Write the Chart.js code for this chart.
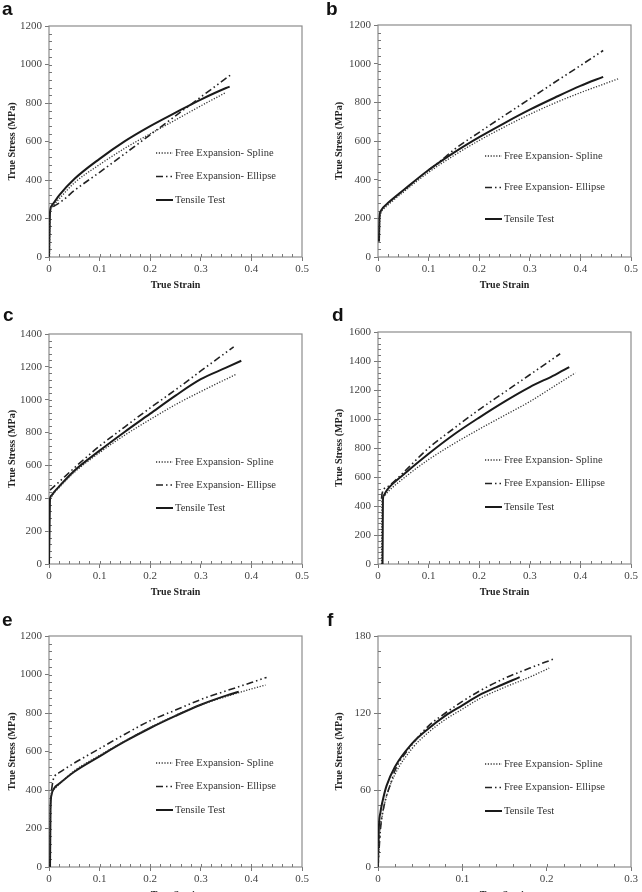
<!DOCTYPE html>
<html>
<head>
<meta charset="utf-8">
<script src="https://cdn.jsdelivr.net/npm/chart.js@4.4.1/dist/chart.umd.min.js"></script>
<style>
html, body { margin: 0; padding: 0; background: #fff; overflow: hidden; }
#fig { position: relative; width: 642px; height: 892px; overflow: hidden; }
.panel { position: absolute; width: 321px; height: 310px; }
.panel canvas { position: absolute; left: 0; top: 0; }
.tag { position: absolute; font: bold 19px "Liberation Sans", Arial, sans-serif; color: #111; line-height: 19px; }
</style>
</head>
<body>
<div id="fig">
  <div class="panel" style="left:0;top:0"><canvas id="ca" width="321" height="310"></canvas></div>
  <div class="panel" style="left:321px;top:0"><canvas id="cb" width="321" height="310"></canvas></div>
  <div class="panel" style="left:0;top:300px"><canvas id="cc" width="321" height="310"></canvas></div>
  <div class="panel" style="left:321px;top:300px"><canvas id="cd" width="321" height="310"></canvas></div>
  <div class="panel" style="left:0;top:600px"><canvas id="ce" width="321" height="310"></canvas></div>
  <div class="panel" style="left:321px;top:600px"><canvas id="cf" width="321" height="310"></canvas></div>
  <div class="tag" style="left:2px;top:-1px">a</div>
  <div class="tag" style="left:326px;top:-1px">b</div>
  <div class="tag" style="left:3px;top:305px">c</div>
  <div class="tag" style="left:332px;top:305px">d</div>
  <div class="tag" style="left:2px;top:610px">e</div>
  <div class="tag" style="left:327px;top:610px">f</div>
</div>
<script>
// series labels
const seriesNames = ["Free Expansion- Spline", "Free Expansion- Ellipse", "Tensile Test"];
const xTitle = "True Strain";
const yTitle = "True Stress (MPa)";

// axis ranges per panel a..f
const yMaxes = [1200, 1200, 1400, 1600, 1200, 180];
const ySteps = [200, 200, 200, 200, 200, 60];
const xMaxes = [0.5, 0.5, 0.5, 0.5, 0.5, 0.3];

// panel a
const aSplineX = [0.001, 0.002, 0.005, 0.01, 0.02, 0.05, 0.1, 0.15, 0.2, 0.25, 0.3, 0.35];
const aSplineY = [0, 220, 258, 272, 302, 385, 480, 565, 640, 712, 785, 855];
const aEllipseX = [0.008, 0.015, 0.03, 0.05, 0.1, 0.15, 0.2, 0.25, 0.3, 0.36];
const aEllipseY = [262, 272, 300, 345, 440, 537, 635, 733, 831, 948];
const aTensileX = [0, 0.001, 0.002, 0.005, 0.01, 0.02, 0.05, 0.1, 0.15, 0.2, 0.25, 0.3, 0.35, 0.357];
const aTensileY = [0, 120, 230, 265, 283, 320, 405, 510, 602, 680, 750, 818, 878, 885];

// panel b
const bSplineX = [0.002, 0.004, 0.01, 0.02, 0.05, 0.1, 0.15, 0.2, 0.25, 0.3, 0.35, 0.4, 0.45, 0.475];
const bSplineY = [80, 200, 245, 270, 335, 438, 525, 603, 673, 738, 797, 850, 898, 922];
const bEllipseX = [0.1, 0.125, 0.15, 0.2, 0.25, 0.3, 0.35, 0.4, 0.445];
const bEllipseY = [450, 500, 555, 645, 732, 818, 905, 990, 1068];
const bTensileX = [0.002, 0.0025, 0.003, 0.005, 0.01, 0.02, 0.05, 0.1, 0.15, 0.2, 0.25, 0.3, 0.35, 0.4, 0.445];
const bTensileY = [80, 150, 205, 235, 255, 280, 345, 450, 540, 620, 693, 762, 825, 885, 932];

// panel c
const cSplineX = [0.002, 0.01, 0.02, 0.05, 0.1, 0.15, 0.2, 0.25, 0.3, 0.37];
const cSplineY = [395, 432, 465, 558, 678, 785, 880, 970, 1050, 1155];
const cEllipseX = [0.002, 0.02, 0.05, 0.1, 0.15, 0.2, 0.25, 0.3, 0.365];
const cEllipseY = [450, 500, 585, 718, 835, 950, 1060, 1175, 1322];
const cTensileX = [0, 0.001, 0.002, 0.005, 0.01, 0.02, 0.05, 0.1, 0.15, 0.2, 0.25, 0.3, 0.35, 0.38];
const cTensileY = [0, 200, 395, 418, 438, 472, 568, 690, 805, 915, 1025, 1125, 1195, 1237];

// panel d
const dSplineX = [0.007, 0.0073, 0.008, 0.012, 0.02, 0.05, 0.1, 0.15, 0.2, 0.25, 0.3, 0.35, 0.39];
const dSplineY = [0, 250, 440, 470, 500, 590, 720, 830, 930, 1025, 1120, 1230, 1318];
const dEllipseX = [0.007, 0.008, 0.02, 0.05, 0.1, 0.15, 0.2, 0.25, 0.3, 0.36];
const dEllipseY = [450, 485, 535, 630, 800, 935, 1065, 1185, 1305, 1450];
const dTensileX = [0.009, 0.0093, 0.0097, 0.011, 0.015, 0.02, 0.05, 0.1, 0.15, 0.2, 0.25, 0.3, 0.35, 0.378];
const dTensileY = [0, 200, 440, 470, 495, 520, 615, 760, 893, 1010, 1120, 1220, 1305, 1358];

// panel e
const eSplineX = [0.001, 0.002, 0.004, 0.01, 0.02, 0.05, 0.1, 0.15, 0.2, 0.25, 0.3, 0.35, 0.4, 0.428];
const eSplineY = [0, 200, 375, 405, 430, 500, 580, 655, 725, 788, 842, 885, 925, 945];
const eEllipseX = [0.005, 0.008, 0.012, 0.02, 0.05, 0.1, 0.15, 0.2, 0.25, 0.3, 0.35, 0.4, 0.43];
const eEllipseY = [400, 450, 475, 490, 540, 615, 690, 760, 815, 870, 915, 958, 985];
const eTensileX = [0.002, 0.0025, 0.003, 0.005, 0.01, 0.02, 0.05, 0.1, 0.15, 0.2, 0.25, 0.3, 0.35, 0.375];
const eTensileY = [0, 150, 300, 375, 408, 432, 495, 575, 652, 722, 785, 843, 890, 910];

// panel f
const fSplineX = [0, 0.002, 0.005, 0.01, 0.02, 0.04, 0.06, 0.08, 0.1, 0.12, 0.15, 0.18, 0.203];
const fSplineY = [0, 25, 40, 55, 72, 92, 105, 115, 123, 131, 140, 148, 155];
const fEllipseX = [0, 0.003, 0.008, 0.015, 0.02, 0.04, 0.06, 0.08, 0.1, 0.12, 0.15, 0.18, 0.208];
const fEllipseY = [0, 30, 50, 65, 75, 95, 110, 120, 129, 137, 147, 155, 162];
const fTensileX = [0, 0.001, 0.003, 0.005, 0.01, 0.02, 0.04, 0.06, 0.08, 0.1, 0.12, 0.14, 0.168];
const fTensileY = [0, 30, 43, 50, 63, 78, 96, 108, 118, 126, 134, 140, 148];

function pts(xs, ys) {
    return xs.map((v, i) => ({ x: v, y: ys[i] }));
}

const serif = '"Liberation Serif", "Times New Roman", serif';

// frame around plot + minor ticks pointing inward
const frameTicks = {
    id: 'frameTicks',
    beforeDatasetsDraw(chart) {
        const { ctx, chartArea: a, scales: { x, y } } = chart;
        ctx.save();
        ctx.strokeStyle = '#8c8c8c';
        ctx.lineWidth = 1.2;
        ctx.strokeRect(a.left, a.top, a.right - a.left, a.bottom - a.top);
        ctx.lineWidth = 1;
        ctx.strokeStyle = '#777';
        ctx.beginPath();
        const xs = x.options.ticks.stepSize / 5;
        for (let i = 1; i * xs < x.max - 1e-9; i++) {
            const p = Math.round(x.getPixelForValue(i * xs)) + 0.5;
            ctx.moveTo(p, a.bottom);
            ctx.lineTo(p, a.bottom - 3);
        }
        const ys = y.options.ticks.stepSize / 5;
        for (let i = 1; i * ys < y.max - 1e-9; i++) {
            const p = Math.round(y.getPixelForValue(i * ys)) + 0.5;
            ctx.moveTo(a.left, p);
            ctx.lineTo(a.left + 3, p);
        }
        ctx.stroke();
        ctx.restore();
    }
};

// legend drawn inside the plot area
const inLegend = {
    id: 'inLegend',
    afterDatasetsDraw(chart, args, o) {
        const { ctx, chartArea: a } = chart;
        const x0 = a.left + o.dx;
        const y0 = a.top + o.dy;
        ctx.save();
        ctx.font = '10.5px ' + serif;
        ctx.fillStyle = '#333';
        ctx.textBaseline = 'middle';
        chart.data.datasets.forEach((ds, i) => {
            const yy = y0 + i * o.gap;
            ctx.setLineDash(ds.borderDash || []);
            ctx.lineWidth = ds.borderWidth;
            ctx.strokeStyle = ds.borderColor;
            ctx.beginPath();
            ctx.moveTo(x0, yy);
            ctx.lineTo(x0 + 17, yy);
            ctx.stroke();
            ctx.setLineDash([]);
            ctx.fillText(ds.label, x0 + 19, yy);
        });
        ctx.restore();
    }
};

function makePanel(id, k, spline, ellipse, tensile, box) {
    new Chart(document.getElementById(id), {
        type: 'scatter',
        data: {
            datasets: [
                { label: seriesNames[0], data: spline, borderColor: '#333', borderWidth: 1.3, borderDash: [1.2, 1.6] },
                { label: seriesNames[1], data: ellipse, borderColor: '#222', borderWidth: 1.6, borderDash: [7, 3, 1.5, 3, 1.5, 3] },
                { label: seriesNames[2], data: tensile, borderColor: '#1a1a1a', borderWidth: 2 }
            ].map(d => Object.assign(d, { showLine: true, pointRadius: 0, fill: false, cubicInterpolationMode: 'monotone' }))
        },
        options: {
            responsive: false,
            animation: false,
            layout: { padding: { left: 0, top: box.T, right: 321 - box.R, bottom: 0 } },
            plugins: {
                legend: { display: false },
                tooltip: { enabled: false },
                inLegend: { dx: 107, dy: box.ly, gap: box.lg }
            },
            scales: {
                x: {
                    type: 'linear', min: 0, max: xMaxes[k],
                    border: { display: false },
                    grid: { drawOnChartArea: false, drawTicks: true, tickLength: 4, color: '#777' },
                    ticks: {
                        stepSize: 0.1, padding: 2, color: '#444', font: { family: serif, size: 11 },
                        maxRotation: 0,
                        callback: v => String(Number(v.toFixed(1)))
                    },
                    title: { display: true, text: xTitle, color: '#222', font: { family: serif, size: 10, weight: 'bold' },
                             padding: { top: 0, bottom: 310 - (box.B + 28) - 6 } },
                    afterFit: s => { s.height = 310 - box.B; }
                },
                y: {
                    type: 'linear', min: 0, max: yMaxes[k],
                    border: { display: false },
                    grid: { drawOnChartArea: false, drawTicks: true, tickLength: 4, color: '#777' },
                    ticks: {
                        stepSize: ySteps[k], padding: 3, color: '#444', font: { family: serif, size: 11 },
                        callback: v => String(Math.round(v))
                    },
                    title: { display: true, text: yTitle, color: '#222', font: { family: serif, size: 10, weight: 'bold' },
                             padding: { top: box.tx - 6, bottom: 0 } },
                    afterFit: s => { s.width = box.L; }
                }
            }
        },
        plugins: [frameTicks, inLegend]
    });
}

makePanel('ca', 0, pts(aSplineX, aSplineY), pts(aEllipseX, aEllipseY), pts(aTensileX, aTensileY),
    { L: 49, R: 302, T: 26, B: 257, tx: 12, ly: 127, lg: 23.5 });
makePanel('cb', 1, pts(bSplineX, bSplineY), pts(bEllipseX, bEllipseY), pts(bTensileX, bTensileY),
    { L: 57, R: 310, T: 25, B: 257, tx: 18, ly: 131, lg: 31.5 });
makePanel('cc', 2, pts(cSplineX, cSplineY), pts(cEllipseX, cEllipseY), pts(cTensileX, cTensileY),
    { L: 49, R: 302, T: 34, B: 264, tx: 12, ly: 128, lg: 23 });
makePanel('cd', 3, pts(dSplineX, dSplineY), pts(dEllipseX, dEllipseY), pts(dTensileX, dTensileY),
    { L: 57, R: 310, T: 32, B: 264, tx: 18, ly: 128, lg: 23.5 });
makePanel('ce', 4, pts(eSplineX, eSplineY), pts(eEllipseX, eEllipseY), pts(eTensileX, eTensileY),
    { L: 49, R: 302, T: 36, B: 267, tx: 12, ly: 127, lg: 23.5 });
makePanel('cf', 5, pts(fSplineX, fSplineY), pts(fEllipseX, fEllipseY), pts(fTensileX, fTensileY),
    { L: 57, R: 310, T: 36, B: 267, tx: 18, ly: 128, lg: 23.5 });
</script>
</body>
</html>
